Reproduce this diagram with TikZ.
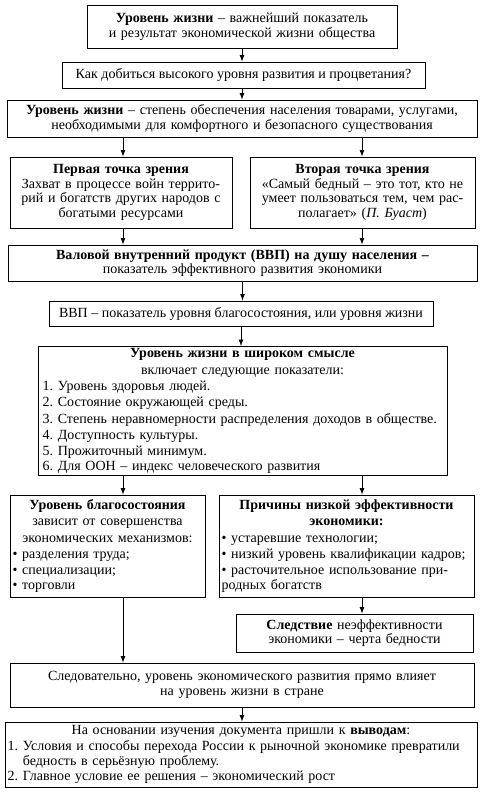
\documentclass[tikz,border=0pt]{standalone}
\usepackage{fontspec}
\setmainfont{Liberation Serif}
\usetikzlibrary{arrows}
\frenchspacing
\newcommand\boxfont{\fontsize{10.5pt}{11pt}\selectfont}
\tikzset{
    box/.style={draw, line width=0.7pt, inner xsep=2pt, inner ysep=1pt, align=center, font=\boxfont},
    lbox/.style={box, align=left},
    arr/.style={-latex, line width=0.7pt}
}
\newcommand\ctr[1]{{\centering #1\par}}
\begin{document}
\begin{tikzpicture}[x=0.75pt, y=-0.75pt]
    \useasboundingbox (0,0) rectangle (484,792);
    \coordinate (L) at (123,0);
    \coordinate (R) at (362,0);
    % upper part
    \node[box, text width=228.5pt, minimum height=32.25pt] (b1) at (242,26.5) {\fontsize{10.5pt}{12pt}\selectfont
        \textbf{Уровень жизни} – важнейший показатель\\и результат экономической жизни общества};
    \node[box, minimum width=272.25pt, minimum height=19.5pt] (b2) at (243.5,75)
        {Как добиться высокого уровня развития и процветания?};
    \node[box, text width=348.5pt, minimum height=27.75pt] (b3) at (242,118.5)
        {\textbf{Уровень жизни} – степень обеспечения населения товарами, услугами,\\необходимыми для комфортного и безопасного существования};
    \node[box, text width=162.5pt, minimum height=53.25pt] (b4) at (121,192.5)
        {\textbf{Первая точка зрения}\\Захват в процессе войн террито-\\рий и богатств других народов с\\богатыми ресурсами};
    \node[box, text width=164.75pt, minimum height=53.25pt] (b5) at (362.5,192.5)
        {\textbf{Вторая точка зрения}\\«Самый бедный – это тот, кто не\\умеет пользоваться тем, чем рас-\\полагает» (\textit{П. Буаст})};
    \node[box, text width=347.75pt, minimum height=27pt] (b6) at (242.5,263)
        {\textbf{Валовой внутренний продукт (ВВП) на душу населения –}\\показатель эффективного развития экономики};
    \node[box, minimum width=288pt, minimum height=18.75pt] (b7) at (241,313.5)
        {ВВП – показатель уровня благосостояния, или уровня жизни};
    % middle part
    \node[lbox, inner xsep=3.5pt, text width=299.75pt, minimum height=96.75pt] (b8) at (242.5,411) {\fontsize{10.5pt}{12.2pt}\selectfont
        \ctr{\textbf{Уровень жизни в широком смысле}\\включает следующие показатели:}
        1. Уровень здоровья людей.\\
        2. Состояние окружающей среды.\\
        3. Степень неравномерности распределения доходов в обществе.\\
        4. Доступность культуры.\\
        5. Прожиточный минимум.\\
        6. Для ООН – индекс человеческого развития};
    \node[lbox, text width=142.25pt, minimum height=76.5pt] (b9) at (107.5,546) {\fontsize{10.5pt}{12.2pt}\selectfont
        \ctr{\textbf{Уровень благосостояния}\\зависит от совершенства\\экономических механизмов:}
        • разделения труда;\\
        • специализации;\\
        • торговли};
    \node[lbox, text width=187.25pt, minimum height=76.5pt] (b10) at (346.5,546) {\fontsize{10.5pt}{12.2pt}\selectfont
        \ctr{\textbf{Причины низкой эффективности}\\\textbf{экономики:}}
        • устаревшие технологии;\\
        • низкий уровень квалификации кадров;\\
        • расточительное использование при-\\
        родных богатств};
    \node[box, text width=173.75pt, minimum height=28.5pt] (b11) at (354.5,633)
        {\textbf{Следствие} неэффективности\\экономики – черта бедности};
    % lower part
    \node[box, text width=344pt, minimum height=33pt] (b12) at (242,685)
        {Следовательно, уровень экономического развития прямо влияет\\на уровень жизни в стране};
    \node[lbox, text width=350pt, minimum height=48.75pt] (b13) at (241,754.5) {\fontsize{10.5pt}{11.8pt}\selectfont
        \ctr{На основании изучения документа пришли к \textbf{выводам}:}
        1. Условия и способы перехода России к рыночной экономике превратили\\
        \phantom{1. }бедность в серьёзную проблему.\\
        2. Главное условие ее решения – экономический рост};
    % connectors
    \draw[arr] (b1.south) -- (b1.south |- b2.north);
    \draw[arr] (b2.south -| b1.south) -- (b1.south |- b3.north);
    \draw[arr] (b3.south -| L) -- (b4.north -| L);
    \draw[arr] (b3.south -| R) -- (b5.north -| R);
    \draw[arr] (b4.south -| L) -- (b6.north -| L);
    \draw[arr] (b5.south -| R) -- (b6.north -| R);
    \draw[arr] (b6.south) -- (b6.south |- b7.north);
    \draw[arr] (b7.south) -- (b7.south |- b8.north);
    \draw[arr] (b8.south -| L) -- (b9.north -| L);
    \draw[arr] (b8.south -| R) -- (b10.north -| R);
    \draw[arr] (b10.south -| R) -- (b11.north -| R);
    \draw[arr] (b9.south -| L) -- (b12.north -| L);
    \draw[arr] (b12.south) -- (b12.south |- b13.north);
\end{tikzpicture}
\end{document}
